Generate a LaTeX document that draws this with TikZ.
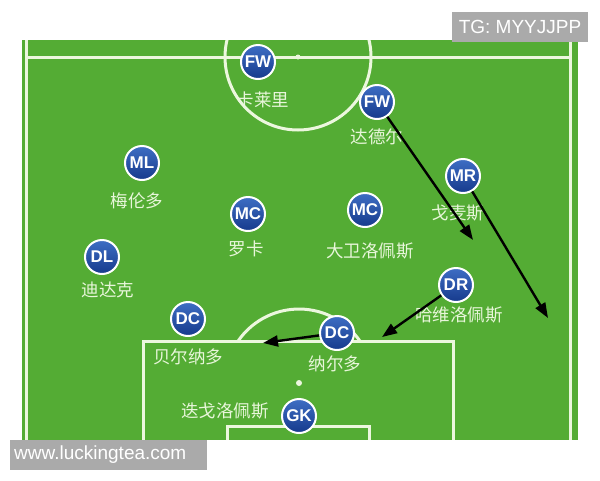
\documentclass[tikz,border=0pt]{standalone}
\usepackage{fontspec}
\setsansfont{Liberation Sans}
\newfontfamily\cjk{Noto Sans CJK SC}
\usetikzlibrary{arrows.meta}
\definecolor{pitch}{RGB}{84,172,52}
\definecolor{pline}{RGB}{236,247,222}
\definecolor{ltext}{RGB}{232,246,218}
\definecolor{mtop}{RGB}{62,110,196}
\definecolor{mbot}{RGB}{22,58,140}
\definecolor{wm}{RGB}{170,170,170}
\begin{document}
\begin{tikzpicture}[x=1pt,y=-1pt,
  player/.style={circle,draw=white,line width=2pt,minimum size=34pt,inner sep=0pt,
    top color=mtop,bottom color=mbot,text=white,font=\sffamily\bfseries\fontsize{17}{17}\selectfont},
  pname/.style={text=ltext,font=\cjk\fontsize{17.5}{17.5}\selectfont,inner sep=0pt},
  fline/.style={draw=pline,line width=3pt},
  arr/.style={draw=black,line width=2.4pt,-{Triangle[length=15pt,width=11pt]}},
  wmtext/.style={text=white,font=\sffamily\fontsize{19}{19}\selectfont,inner sep=0pt}
]
\useasboundingbox (0,0) rectangle (600,480);
% pitch
\fill[pitch] (22,40) rectangle (578,440);
% labels
\node[pname] (n1) at (263,100) {卡莱里};
\node[pname] (n2) at (377,137) {达德尔};
\node[pname] (n3) at (137,201) {梅伦多};
\node[pname] (n4) at (246,249) {罗卡};
\node[pname] (n5) at (370,251) {大卫洛佩斯};
\node[pname] (n6) at (458,213) {戈麦斯};
\node[pname] (n7) at (108,290) {迪达克};
\node[pname] (n8) at (459,315) {哈维洛佩斯};
\node[pname] (n9) at (188,357) {贝尔纳多};
\node[pname] (n10) at (335,364) {纳尔多};
\node[pname] (n11) at (225,411) {迭戈洛佩斯};
% field lines
\begin{scope}
  \clip (22,40) rectangle (578,440);
  \draw[fline] (298,57) circle[radius=73];
\end{scope}
\draw[fline] (26.5,40) -- (26.5,440);
\draw[fline] (570,40) -- (570,440);
\draw[fline] (26.5,57) -- (570,57);
\draw[fline] (143,440) -- (143,341) -- (453,341) -- (453,440);
\draw[fline] (227,440) -- (227,426) -- (369,426) -- (369,440);
\draw[fline] (238.1,341) arc[start angle=-145.4,end angle=-34.6,radius=74];
\fill[pline] (298,57) circle[radius=2.5];
\fill[pline] (299,383) circle[radius=3];
% players
\node[player] (fw1) at (258,62) {FW};
\node[player] (fw2) at (377,102) {FW};
\node[player] (ml) at (142,163) {ML};
\node[player] (mc1) at (248,214) {MC};
\node[player] (mc2) at (365,210) {MC};
\node[player] (mr) at (463,176) {MR};
\node[player] (dl) at (102,257) {DL};
\node[player] (dr) at (456,285) {DR};
\node[player] (dc1) at (188,319) {DC};
\node[player] (dc2) at (337,333) {DC};
\node[player] (gk) at (299,416) {GK};
% arrows
\coordinate (a1) at (473,240);
\coordinate (a2) at (548,318);
\coordinate (a3) at (382,337);
\coordinate (a4) at (263,343);
\draw[arr] (fw2) -- (a1);
\draw[arr] (mr) -- (a2);
\draw[arr] (dr) -- (a3);
\draw[arr] (dc2) -- (a4);
% watermarks
\fill[wm] (452,12) rectangle (588,42);
\node[wmtext] (tg) at (520,27) {TG: MYYJJPP};
\fill[wm] (10,440) rectangle (207,470);
\node[wmtext,anchor=west] (www) at (14,455) {www.luckingtea.com};
\end{tikzpicture}
\end{document}
